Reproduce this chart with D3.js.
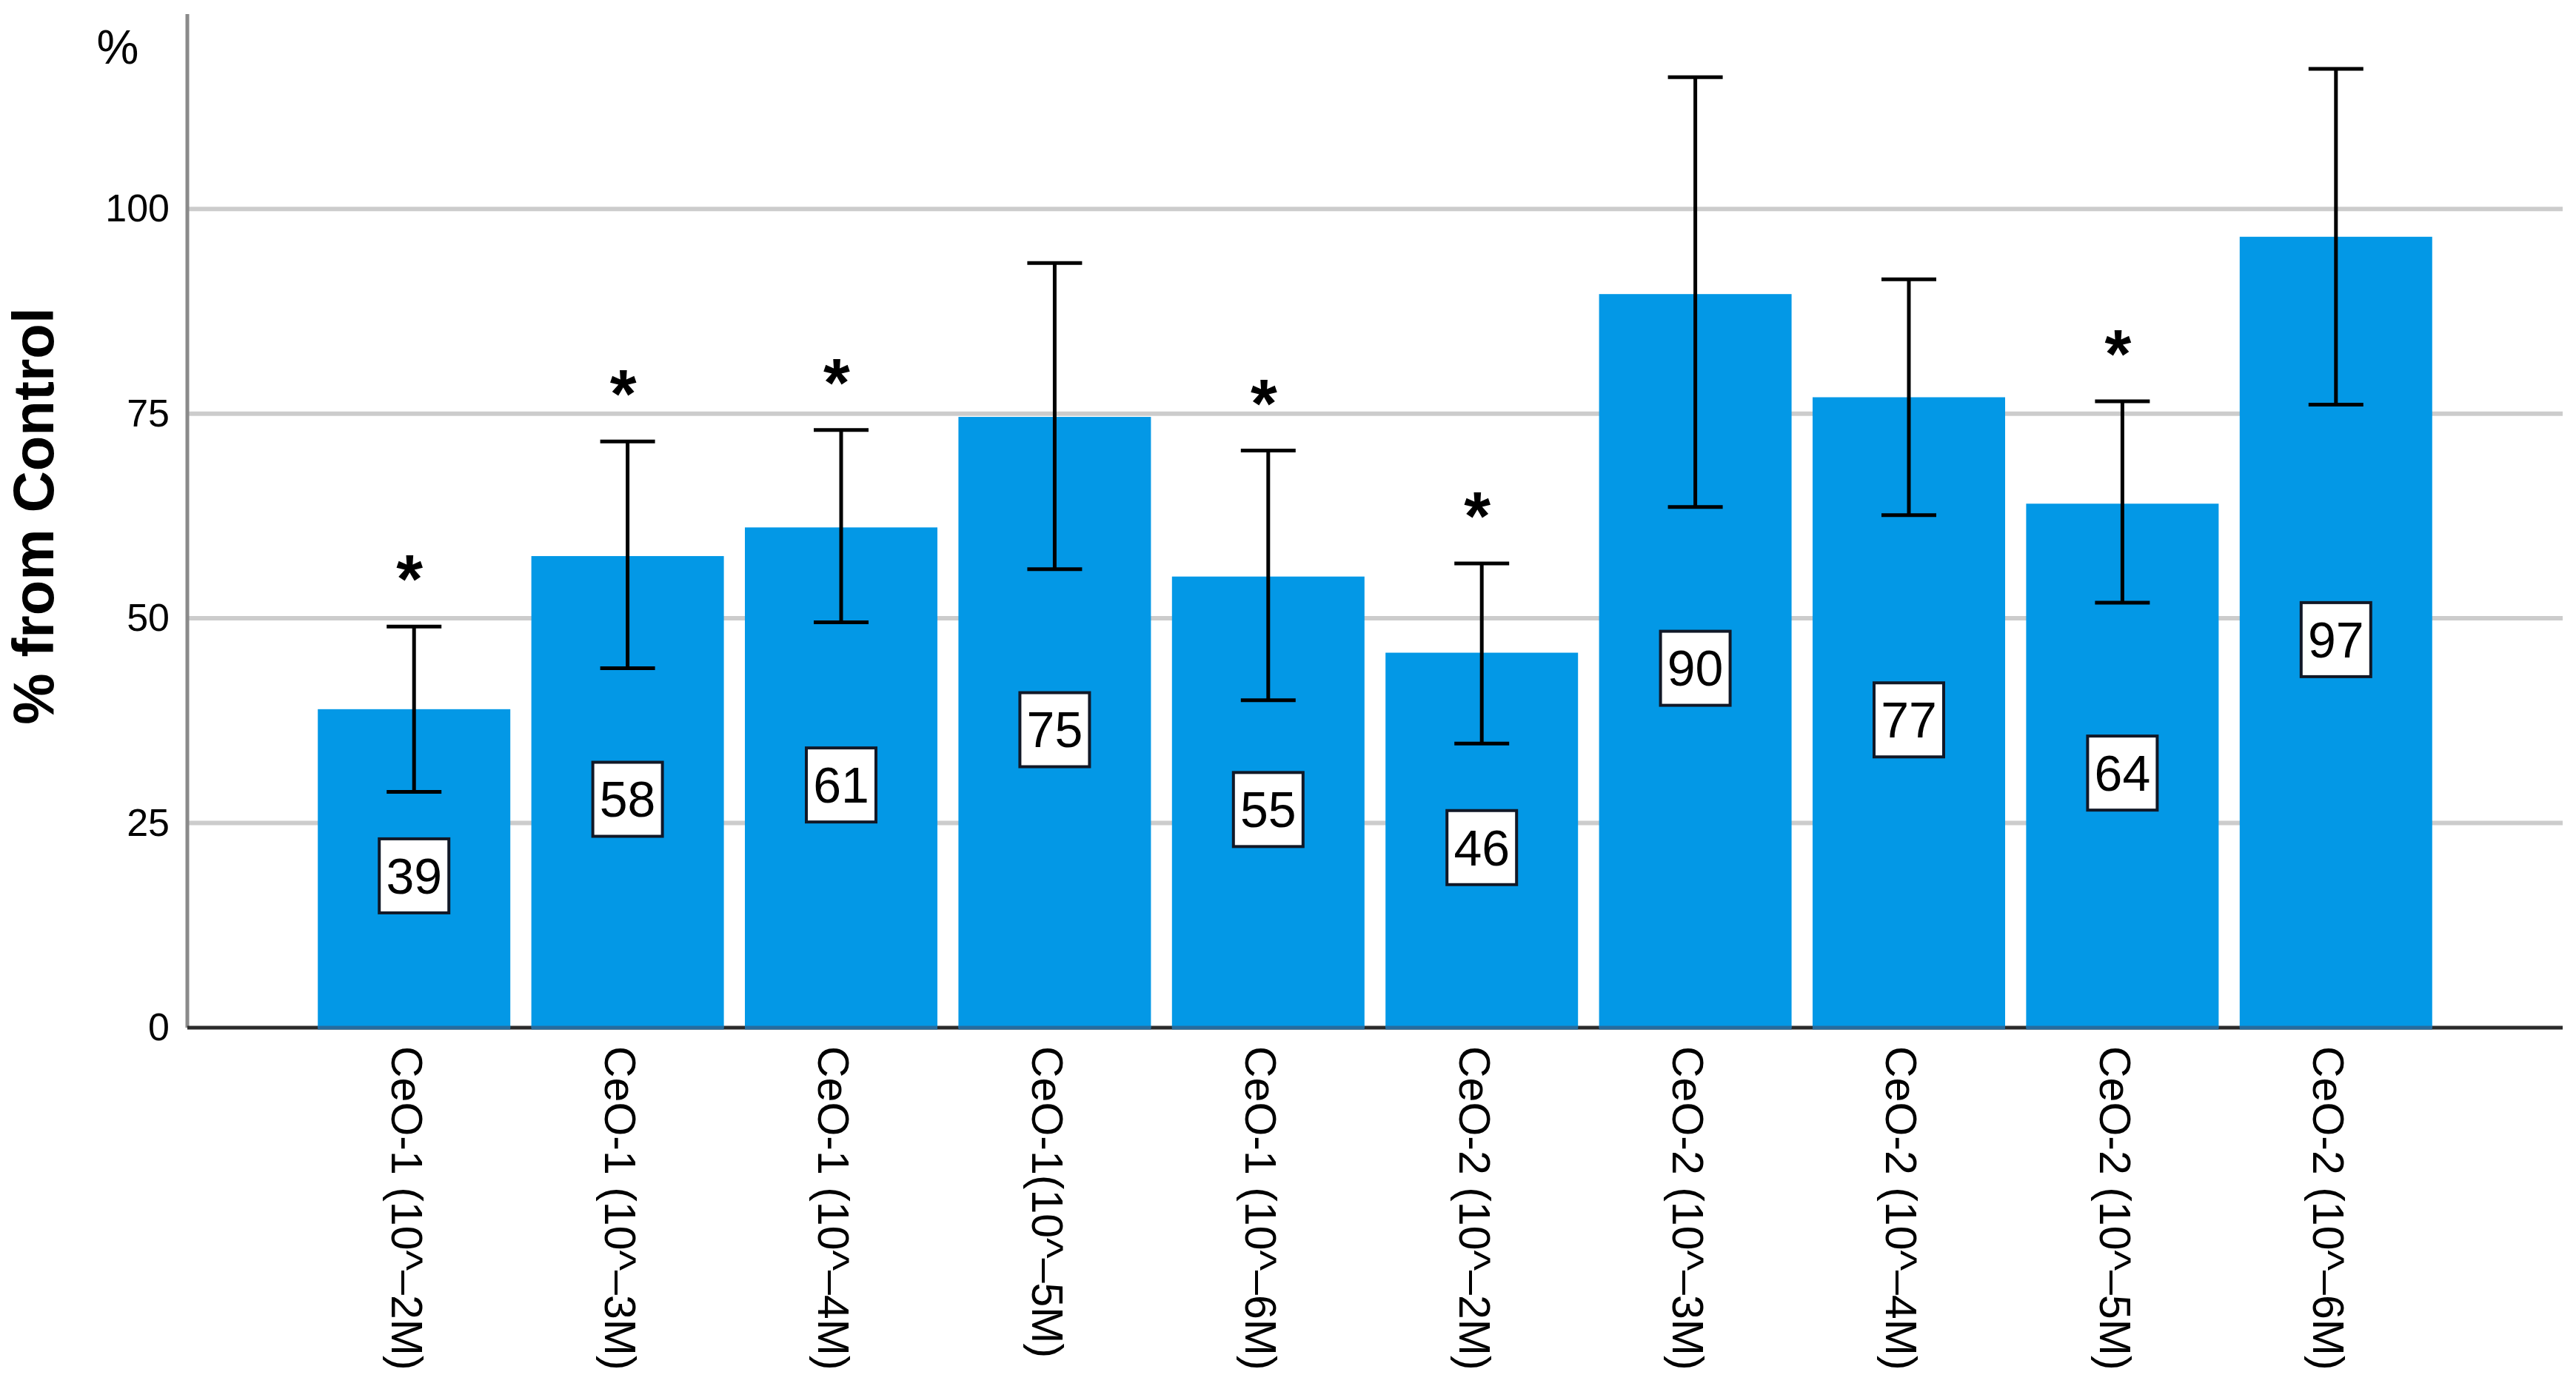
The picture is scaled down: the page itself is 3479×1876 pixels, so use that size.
<!DOCTYPE html>
<html>
<head>
<meta charset="utf-8">
<script src="https://cdnjs.cloudflare.com/ajax/libs/d3/7.8.5/d3.min.js"></script>
<style>
    body { margin: 0; background: #fff; }
    svg text { font-family: "Liberation Sans", Arial, sans-serif; fill: #000; }
</style>
</head>
<body>
<svg id="chart" width="3479" height="1876"></svg>
<script>
// data
var categories = ["CeO-1 (10^\u20132M)", "CeO-1 (10^\u20133M)", "CeO-1 (10^\u20134M)", "CeO-1(10^\u20135M)",
    "CeO-1 (10^\u20136M)", "CeO-2 (10^\u20132M)", "CeO-2 (10^\u20133M)", "CeO-2 (10^\u20134M)",
    "CeO-2 (10^\u20135M)", "CeO-2 (10^\u20136M)"];
var means = [38.9, 57.6, 61.1, 74.6, 55.1, 45.8, 89.6, 77.0, 64.0, 96.6];
var err_hi = [49.0, 71.6, 73.0, 93.4, 70.5, 56.7, 116.1, 91.4, 76.5, 117.1];
var err_lo = [28.8, 43.9, 49.5, 56.0, 40.0, 34.7, 63.6, 62.6, 51.9, 76.1];
var signif = [1, 1, 1, 0, 1, 1, 0, 0, 1, 0];
var y_ticks = [0, 25, 50, 75, 100];

var ax_left = 253, ax_right = 3461, ax_top = 19, ax_bot = 1388;

function build() {
    var svg = d3.select("#chart");
    var y = d3.scaleLinear().domain([0, 123.8]).range([ax_bot, ax_top]);
    var x = d3.scaleBand().domain(categories).range([ax_left, ax_right])
        .paddingInner(0.0985).paddingOuter(0.611);
    var bw = x.bandwidth();

    // grid lines
    svg.append("g").selectAll("line")
        .data(y_ticks.filter(function (d) { return d > 0; }))
        .enter().append("line")
        .attr("x1", ax_left).attr("x2", ax_right)
        .attr("y1", function (d) { return y(d); })
        .attr("y2", function (d) { return y(d); })
        .attr("stroke", "#cccccc")
        .attr("stroke-width", 6);

    // y axis (no ticks, only labels)
    var yAxis = d3.axisLeft(y).tickValues(y_ticks).tickSize(0).tickPadding(24);
    var ga = svg.append("g").attr("transform", "translate(" + ax_left + ",0)").call(yAxis);
    ga.select(".domain").remove();
    ga.selectAll("text").attr("font-size", 52).style("font-family", "Liberation Sans, Arial, sans-serif");
    svg.append("line")
        .attr("x1", ax_left).attr("x2", ax_left)
        .attr("y1", ax_top).attr("y2", ax_bot)
        .attr("stroke", "#8a8a8a").attr("stroke-width", 5);

    // x axis line
    svg.append("line")
        .attr("x1", ax_left).attr("x2", ax_right)
        .attr("y1", ax_bot).attr("y2", ax_bot)
        .attr("stroke", "#2b2b2b").attr("stroke-width", 5);

    var bar = svg.selectAll("g.bar")
        .data(categories)
        .enter().append("g")
        .attr("class", "bar");

    bar.append("rect")
        .attr("x", function (d) { return x(d); })
        .attr("y", function (d, i) { return y(means[i]); })
        .attr("width", bw)
        .attr("height", function (d, i) { return y(0) - y(means[i]); })
        .attr("fill", "#0398e6");
    bar.append("line")
        .attr("x1", function (d) { return x(d); })
        .attr("x2", function (d) { return x(d) + bw; })
        .attr("y1", ax_bot).attr("y2", ax_bot)
        .attr("stroke", "#276c9e").attr("stroke-width", 5);

    // error bars
    var cx = function (d) { return x(d) + bw / 2; };
    bar.append("line")
        .attr("x1", cx).attr("x2", cx)
        .attr("y1", function (d, i) { return y(err_hi[i]); })
        .attr("y2", function (d, i) { return y(err_lo[i]); })
        .attr("stroke", "#000").attr("stroke-width", 5);
    [err_hi, err_lo].forEach(function (arr) {
        bar.append("line")
            .attr("x1", function (d) { return cx(d) - 37; })
            .attr("x2", function (d) { return cx(d) + 37; })
            .attr("y1", function (d, i) { return y(arr[i]); })
            .attr("y2", function (d, i) { return y(arr[i]); })
            .attr("stroke", "#000").attr("stroke-width", 5);
    });

    // value labels
    bar.append("rect")
        .attr("x", function (d) { return cx(d) - 47; })
        .attr("y", function (d, i) { return y(means[i] / 2) - 40; })
        .attr("width", 94).attr("height", 100)
        .attr("fill", "#fff")
        .attr("stroke", "#111827").attr("stroke-width", 4);
    bar.append("text")
        .attr("x", cx)
        .attr("y", function (d, i) { return y(means[i] / 2) + 10; })
        .attr("dy", "0.35em")
        .attr("text-anchor", "middle")
        .attr("font-size", 68)
        .text(function (d, i) { return Math.round(means[i]); });

    // significance stars
    bar.filter(function (d, i) { return signif[i]; })
        .append("text")
        .attr("x", function (d) { return cx(d) - 6; })
        .attr("y", function (d) { var i = categories.indexOf(d); return y(err_hi[i]) - 98; })
        .attr("dy", "0.72em")
        .attr("text-anchor", "middle")
        .attr("font-size", 92)
        .attr("font-weight", "bold")
        .text("*");

    // category labels, rotated
    bar.append("text")
        .attr("transform", function (d) { return "translate(" + (cx(d) - 10) + "," + (ax_bot + 25) + ") rotate(90)"; })
        .attr("dy", "0.35em")
        .attr("text-anchor", "start")
        .attr("font-size", 59)
        .text(function (d) { return d; });

    // axis titles
    svg.append("text")
        .attr("x", 159).attr("y", 64)
        .attr("dy", "0.35em")
        .attr("text-anchor", "middle")
        .attr("font-size", 64)
        .text("%");
    svg.append("text")
        .attr("transform", "translate(72,697) rotate(-90)")
        .attr("text-anchor", "middle")
        .attr("font-size", 78)
        .attr("font-weight", "bold")
        .text("% from Control");
}
build();
</script>
</body>
</html>
